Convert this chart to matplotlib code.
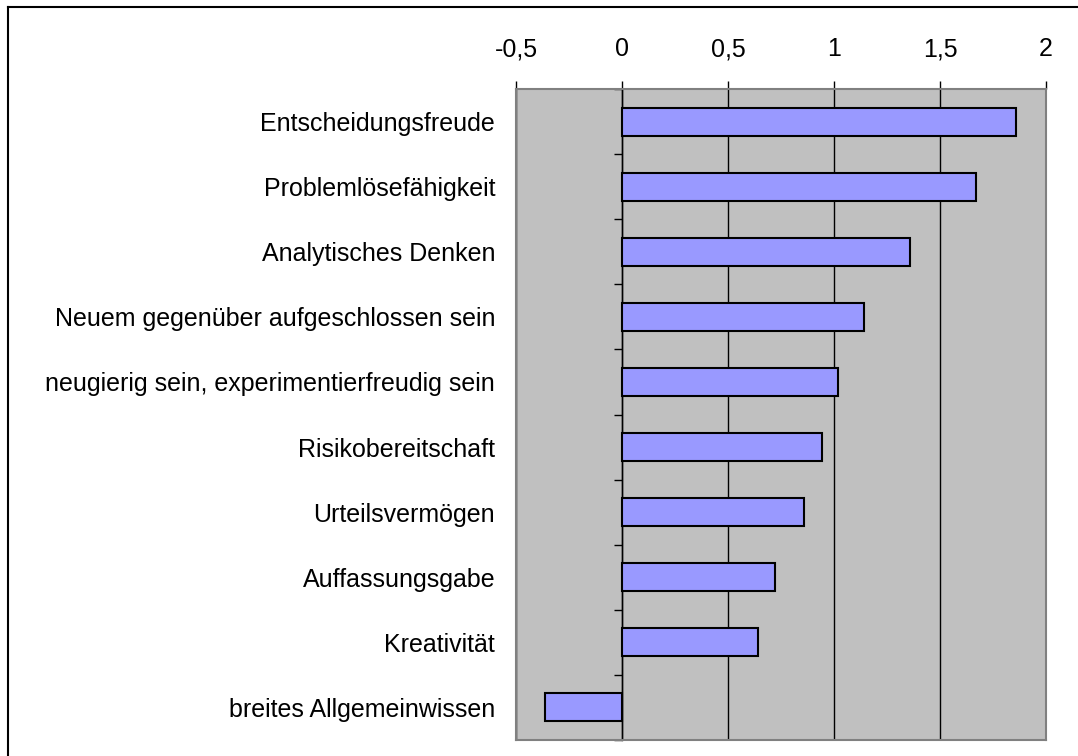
import matplotlib
matplotlib.use("Agg")
import matplotlib.pyplot as plt
from matplotlib.lines import Line2D
import numpy as np

categories = [
    "Entscheidungsfreude",
    "Problemlösefähigkeit",
    "Analytisches Denken",
    "Neuem gegenüber aufgeschlossen sein",
    "neugierig sein, experimentierfreudig sein",
    "Risikobereitschaft",
    "Urteilsvermögen",
    "Auffassungsgabe",
    "Kreativität",
    "breites Allgemeinwissen",
]
values = [1.858, 1.669, 1.360, 1.141, 1.018, 0.943, 0.858, 0.724, 0.641, -0.362]
xticks = [-0.5, 0, 0.5, 1, 1.5, 2]
xticklabels = ["-0,5", "0", "0,5", "1", "1,5", "2"]

plt.rcParams['font.family'] = ['Liberation Sans', 'DejaVu Sans']

W, H = 1078, 756
fig = plt.figure(figsize=(W / 100, H / 100), dpi=100)
fig.patch.set_facecolor("white")

# outer chart border (extends beyond image at right/bottom)
fig.add_artist(Line2D([7.5 / W, 7.5 / W], [0, 1 - 6.5 / H], transform=fig.transFigure,
                      color="black", lw=1.5))
fig.add_artist(Line2D([7.5 / W, 1], [1 - 6.5 / H, 1 - 6.5 / H], transform=fig.transFigure,
                      color="black", lw=1.5))

left, right, top, bottom = 516, 1046, 89, 740
ax = fig.add_axes([left / W, (H - bottom) / H, (right - left) / W, (bottom - top) / H])
ax.set_facecolor("#C0C0C0")

y = np.arange(len(categories))
ax.barh(y, values, height=0.43, color="#9999FF", edgecolor="black", linewidth=1.5, zorder=3)

ax.set_xlim(-0.5, 2)
ax.set_ylim(len(categories) - 0.5, -0.5)

ax.xaxis.tick_top()
ax.set_xticks(xticks)
ax.set_xticklabels(xticklabels)
ax.tick_params(axis="x", length=6, width=1, color="black", direction="out", pad=14, labelsize=18)
ax.grid(axis="x", color="black", linewidth=1, zorder=1)
ax.set_axisbelow(True)

ax.set_yticks(y)
ax.set_yticklabels(categories)
ax.tick_params(axis="y", length=0, pad=15, labelsize=18)

for s in ax.spines.values():
    s.set_color("#808080")
    s.set_linewidth(1.5)

# category axis at x = 0
sec = ax.secondary_yaxis(0.5 / 2.5)
sec.set_yticks(np.arange(len(categories) + 1) - 0.5)
sec.set_yticklabels([])
sec.tick_params(axis="y", length=6, width=1, direction="out", color="black")
sec.spines["left"].set_color("black")
sec.spines["left"].set_linewidth(1)

fig.savefig("out.png", dpi=100)
